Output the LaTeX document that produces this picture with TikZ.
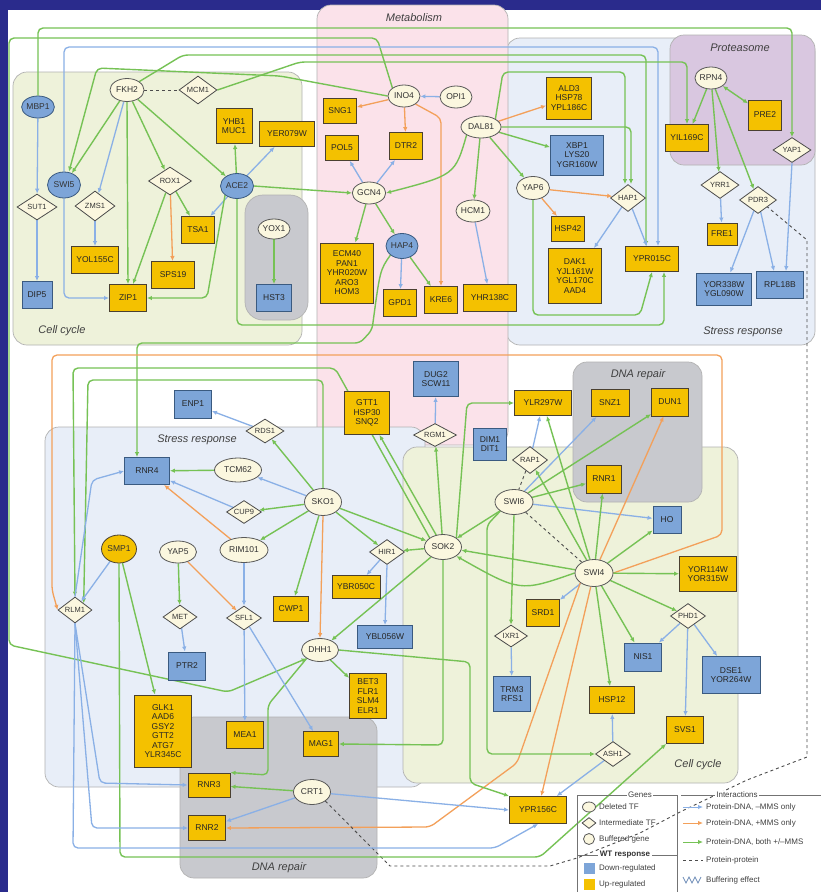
\documentclass[tikz,border=0pt]{standalone}
\usepackage{fontspec}
\setmainfont{Liberation Sans}
\usetikzlibrary{shapes.geometric,arrows.meta,calc}
\definecolor{navy}{HTML}{2A2B8C}
\definecolor{yfill}{HTML}{F4C100}
\definecolor{ybd}{HTML}{4A4030}
\definecolor{bfill}{HTML}{7DA5D8}
\definecolor{bbd}{HTML}{3A5A80}
\definecolor{cream}{HTML}{FBF7DF}
\definecolor{egreen}{HTML}{76C255}
\definecolor{eblue}{HTML}{8AB0E6}
\definecolor{eorange}{HTML}{F3A05A}
\definecolor{ccfill}{HTML}{EEF2DA}
\definecolor{srfill}{HTML}{E8EEF8}
\definecolor{mtfill}{HTML}{FBE2EA}
\definecolor{prfill}{HTML}{D9C7E0}
\definecolor{drfill}{HTML}{C8C9CE}
\pgfdeclarelayer{bg}
\pgfdeclarelayer{edges}
\pgfsetlayers{bg,edges,main}
\tikzset{
 yb/.style={rectangle, draw=ybd, fill=yfill, line width=0.9pt, inner sep=1pt, align=center, text=black!85, font=\fontsize{8.5}{9.5}\selectfont},
 bb/.style={yb, draw=bbd, fill=bfill},
 tf/.style={ellipse, draw=black!65, fill=cream, line width=0.8pt, inner sep=0pt, text=black!80, font=\fontsize{8.5}{9.5}\selectfont},
 btf/.style={tf, fill=bfill, draw=bbd},
 ytf/.style={tf, fill=yfill, draw=ybd},
 dia/.style={diamond, aspect=1.5, draw=black!70, fill=cream, line width=0.8pt, inner sep=0pt, text=black!80, font=\fontsize{7.5}{8.5}\selectfont},
 sz/.style 2 args={minimum width=#1pt, minimum height=#2pt},
 ed/.style={line width=1.3pt, rounded corners=5pt, -{Latex[length=5pt,width=4.5pt]}},
 eg/.style={ed, draw=egreen, line width=1.4pt},
 eb/.style={ed, draw=eblue},
 eo/.style={ed, draw=eorange},
 pp/.style={draw=black!70, line width=0.9pt, dash pattern=on 3pt off 3pt},
 reg/.style={rounded corners=14pt, draw=black!30, line width=0.7pt},
 rlab/.style={font=\fontsize{11}{12}\selectfont\itshape, text=black!75},
 lg/.style={font=\fontsize{8}{9}\selectfont, text=black!75, anchor=west, inner sep=0pt},
}
\begin{document}
\begin{tikzpicture}[x=1pt,y=-1pt]
\useasboundingbox (0,0) rectangle (821,892);
\begin{pgfonlayer}{bg}
\fill[white] (0,0) rectangle (821,892);
\fill[navy] (0,0) rectangle (821,10);
\fill[navy] (0,0) rectangle (8,892);
% regions
\filldraw[reg, fill=srfill] (506,38) rectangle (815,345);
\filldraw[reg, fill=prfill] (670,35) rectangle (815,165);
\filldraw[reg, fill=ccfill] (13,72) rectangle (302,345);
\filldraw[reg, fill=drfill, rounded corners=18pt] (245,195) rectangle (308,320);
\filldraw[reg, fill=mtfill] (317,5) rectangle (508,445);
\filldraw[reg, fill=srfill] (45,427) rectangle (425,787);
\filldraw[reg, fill=ccfill] (403,447) rectangle (738,783);
\filldraw[reg, fill=drfill] (573,362) rectangle (702,502);
\filldraw[reg, fill=drfill] (180,717) rectangle (377,878);
\fill[white] (575,789) rectangle (821,892);
\node[rlab] (lcc1) at (62,331) {Cell cycle};
\node[rlab] (lmet) at (414,18) {Metabolism};
\node[rlab] (lpro) at (740,48) {Proteasome};
\node[rlab] (lsr1) at (743,332) {Stress response};
\node[rlab] (lsr2) at (197,440) {Stress response};
\node[rlab] (ldr1) at (638,375) {DNA repair};
\node[rlab] (lcc2) at (698,765) {Cell cycle};
\node[rlab] (ldr2) at (279,868) {DNA repair};
\end{pgfonlayer}

% ---------- nodes: top-left ----------
\node[btf,sz={30}{22}] (MBP1) at (38,107) {MBP1};
\node[tf,sz={34}{23}] (FKH2) at (127,90) {FKH2};
\node[dia,sz={38}{28}] (MCM1) at (198,90) {MCM1};
\node[btf,sz={33}{26}] (SWI5) at (64,185) {SWI5};
\node[dia,sz={40}{26}] (SUT1) at (37,207) {SUT1};
\node[dia,sz={40}{30}] (ZMS1) at (95,206) {ZMS1};
\node[dia,sz={43}{28}] (ROX1) at (170,181) {ROX1};
\node[btf,sz={33}{25}] (ACE2) at (237,186) {ACE2};
\node[yb,sz={36}{35}] (YHB1) at (234,126) {YHB1\\MUC1};
\node[yb,sz={55}{25}] (YER079W) at (287,134) {YER079W};
\node[yb,sz={33}{27}] (TSA1) at (198,230) {TSA1};
\node[yb,sz={43}{27}] (SPS19) at (173,275) {SPS19};
\node[yb,sz={47}{27}] (YOL155C) at (95,260) {YOL155C};
\node[bb,sz={30}{27}] (DIP5) at (37,295) {DIP5};
\node[yb,sz={37}{27}] (ZIP1) at (128,298) {ZIP1};
\node[tf,sz={32}{20}] (YOX1) at (274,229) {YOX1};
\node[bb,sz={35}{27}] (HST3) at (274,298) {HST3};
% ---------- metabolism ----------
\node[tf,sz={32}{22}] (INO4) at (404,96) {INO4};
\node[tf,sz={32}{22}] (OPI1) at (456,97) {OPI1};
\node[tf,sz={40}{22}] (DAL81) at (481,127) {DAL81};
\node[yb,sz={33}{25}] (SNG1) at (340,111) {SNG1};
\node[yb,sz={33}{25}] (POL5) at (342,148) {POL5};
\node[yb,sz={33}{27}] (DTR2) at (406,146) {DTR2};
\node[tf,sz={33}{22}] (GCN4) at (369,193) {GCN4};
\node[tf,sz={30}{22}] (HCM1) at (473,211) {HCM1};
\node[btf,sz={32}{25}] (HAP4) at (402,246) {HAP4};
\node[yb,sz={53}{60}] (ECM) at (347,273) {ECM40\\PAN1\\YHR020W\\ARO3\\HOM3};
\node[yb,sz={33}{27}] (GPD1) at (400,303) {GPD1};
\node[yb,sz={33}{27}] (KRE6) at (441,300) {KRE6};
\node[yb,sz={53}{27}] (YHR138C) at (490,298) {YHR138C};
% ---------- top right ----------
\node[tf,sz={33}{23}] (YAP6) at (533,188) {YAP6};
\node[yb,sz={45}{42}] (ALD3) at (569,98) {ALD3\\HSP78\\YPL186C};
\node[bb,sz={53}{40}] (XBP1) at (577,155) {XBP1\\LYS20\\YGR160W};
\node[dia,sz={35}{27}] (HAP1) at (628,198) {HAP1};
\node[yb,sz={33}{25}] (HSP42) at (568,229) {HSP42};
\node[yb,sz={53}{55}] (DAK1) at (575,276) {DAK1\\YJL161W\\YGL170C\\AAD4};
\node[yb,sz={53}{25}] (YPR015C) at (652,259) {YPR015C};
\node[tf,sz={30}{22}] (RPN4) at (711,78) {RPN4};
\node[yb,sz={43}{27}] (YIL169C) at (687,138) {YIL169C};
\node[yb,sz={33}{30}] (PRE2) at (765,115) {PRE2};
\node[dia,sz={38}{25}] (YAP1) at (792,150) {YAP1};
\node[dia,sz={38}{27}] (RTG1) at (720,185) {YRR1};
\node[dia,sz={37}{27}] (PDR3) at (758,200) {PDR3};
\node[yb,sz={30}{22}] (FRE1) at (722,234) {FRE1};
\node[bb,sz={55}{32}] (YOR338W) at (724,289) {YOR338W\\YGL090W};
\node[bb,sz={47}{27}] (RPL18B) at (780,285) {RPL18B};
% ---------- lower left ----------
\node[bb,sz={37}{28}] (ENP1) at (193,404) {ENP1};
\node[dia,sz={38}{24}] (RDS1) at (265,431) {RDS1};
\node[bb,sz={45}{27}] (RNR4) at (147,471) {RNR4};
\node[tf,sz={47}{24}] (TCM62) at (238,470) {TCM62};
\node[dia,sz={35}{23}] (CUP9) at (244,512) {CUP9};
\node[tf,sz={37}{27}] (SKO1) at (323,502) {SKO1};
\node[ytf,sz={35}{28}] (SMP1) at (119,549) {SMP1};
\node[tf,sz={37}{22}] (YAP5) at (178,552) {YAP5};
\node[tf,sz={48}{25}] (RIM101) at (244,550) {RIM101};
\node[dia,sz={34}{26}] (RLM1) at (75,610) {RLM1};
\node[dia,sz={34}{24}] (MET) at (180,617) {MET};
\node[dia,sz={35}{24}] (SFL1) at (244,618) {SFL1};
\node[bb,sz={37}{28}] (PTR2) at (187,666) {PTR2};
\node[yb,sz={57}{72}] (GLK1) at (163,731) {GLK1\\AAD6\\GSY2\\GTT2\\ATG7\\YLR345C};
\node[yb,sz={37}{27}] (MEA1) at (245,735) {MEA1};
\node[yb,sz={42}{24}] (RNR3) at (209,785) {RNR3};
\node[yb,sz={37}{25}] (RNR2) at (207,828) {RNR2};
\node[yb,sz={35}{25}] (MAG1) at (321,744) {MAG1};
\node[tf,sz={37}{25}] (CRT1) at (312,792) {CRT1};
\node[tf,sz={37}{23}] (DHH1) at (320,650) {DHH1};
\node[yb,sz={35}{25}] (CWP1) at (291,609) {CWP1};
\node[yb,sz={37}{45}] (BET3) at (368,696) {BET3\\FLR1\\SLM4\\ELR1};
\node[yb,sz={48}{23}] (YBR050C) at (356,587) {YBR050C};
\node[bb,sz={55}{23}] (YBL056W) at (385,637) {YBL056W};
\node[dia,sz={35}{25}] (HIR1) at (387,552) {HIR1};
\node[tf,sz={37}{25}] (SOK2) at (443,547) {SOK2};
\node[yb,sz={45}{43}] (GTT1) at (367,413) {GTT1\\HSP30\\SNQ2};
\node[bb,sz={45}{35}] (DUG2) at (436,379) {DUG2\\SCW11};
\node[dia,sz={43}{23}] (RGM1) at (435,435) {RGM1};
\node[bb,sz={33}{32}] (DIM1) at (490,444) {DIM1\\DIT1};
\node[yb,sz={57}{25}] (YLR297W) at (543,403) {YLR297W};
\node[dia,sz={35}{27}] (RAP1) at (530,460) {RAP1};
\node[tf,sz={38}{25}] (SWI6) at (514,502) {SWI6};
% ---------- lower right ----------
\node[yb,sz={38}{27}] (SNZ1) at (610,403) {SNZ1};
\node[yb,sz={37}{28}] (DUN1) at (670,402) {DUN1};
\node[yb,sz={35}{28}] (RNR1) at (604,479) {RNR1};
\node[bb,sz={28}{27}] (HO) at (667,520) {HO};
\node[tf,sz={38}{27}] (SWI4) at (594,573) {SWI4};
\node[yb,sz={57}{35}] (YOR114W) at (708,574) {YOR114W\\YOR315W};
\node[dia,sz={35}{25}] (PHD1) at (688,616) {PHD1};
\node[bb,sz={37}{28}] (NIS1) at (643,657) {NIS1};
\node[bb,sz={58}{37}] (DSE1) at (731,675) {DSE1\\YOR264W};
\node[yb,sz={33}{27}] (SRD1) at (543,613) {SRD1};
\node[dia,sz={33}{22}] (IXR1) at (511,636) {IXR1};
\node[bb,sz={37}{35}] (TRM3) at (512,694) {TRM3\\RFS1};
\node[yb,sz={45}{27}] (HSP12) at (612,700) {HSP12};
\node[dia,sz={35}{25}] (ASH1) at (613,754) {ASH1};
\node[yb,sz={37}{27}] (SVS1) at (685,730) {SVS1};
\node[yb,sz={57}{27}] (YPR156C) at (538,810) {YPR156C};

% ---------- edges ----------
\begin{pgfonlayer}{edges}
% long routed
\draw[eg] (MBP1.north) -- (38,28) -- (792,28) -- (YAP1.north);
\draw[eg] (INO4.north west) -- (377,38) -- (9,38) -- (9,645) -- (228,692) -- (DHH1.south west);
\draw[eb] (SWI5.north) -- (64,47) -| ([xshift=6pt]YPR015C.north);
\draw[eg] (FKH2.north east) -- (183,55) -| ([xshift=-6pt]YPR015C.north);
\draw[eg] (INO4.west) -- (280,76) -- (97,68) -- ([xshift=5pt]SWI5.north);
\draw[eg] (DAL81.north east) -- (503,72) -| ([xshift=-3pt]HAP1.north);
\draw[eg] (DAL81.east) -| ([xshift=3pt]HAP1.north);
\draw[eg] (MCM1.east) -- (300,62) -| (YIL169C.north);
\draw[eg] (ACE2.south) -- (237,325) -| ([xshift=12pt]YPR015C.south);
% proteasome
\draw[eg] (RPN4) -- (YIL169C);
\draw[eg,{Latex[length=5pt,width=4.5pt]}-{Latex[length=5pt,width=4.5pt]}] (RPN4) -- (PRE2);
\draw[eg] (RPN4) -- (RTG1);
\draw[eg] (RPN4) -- (PDR3);
\draw[eb] (RTG1) -- (FRE1);
\draw[eb] (PDR3) -- (YOR338W);
\draw[eb] (PDR3) -- ([xshift=-6pt]RPL18B.north);
\draw[eb] (YAP1.south) -- ([xshift=6pt]RPL18B.north);
% top-left
\draw[pp] (FKH2) -- (MCM1);
\draw[eg] (FKH2) -- (SWI5);
\draw[eb] (FKH2) -- (ZMS1);
\draw[eg] (FKH2) -- (ROX1);
\draw[eg] (FKH2) -- (ACE2);
\draw[eg] (FKH2.south) -- (ZIP1.north);
\draw[eb] (MBP1) -- (SUT1);
\draw[eb] (SUT1) -- (DIP5);
\draw[eb] (ZMS1) -- (YOL155C);
\draw[eg] (ROX1) -- (TSA1);
\draw[eo] (ROX1) -- (SPS19);
\draw[eg] (ROX1) -- (ZIP1);
\draw[eg] (ACE2) -- (YHB1);
\draw[eb] (ACE2) -- (YER079W);
\draw[eb] (ACE2) -- (TSA1);
\draw[eg] (ACE2.south west) -- (207,298) -- (ZIP1.east);
\draw[eb] (SWI5.south) -- (64,298) -- (ZIP1.west);
\draw[eg] (ACE2.east) -- (GCN4.west);
\draw[eg] (YOX1) -- (HST3);
% metabolism
\draw[eo] (INO4) -- (SNG1);
\draw[eo] (INO4) -- (DTR2);
\draw[eo] (INO4.south east) -- (441,118) -- (KRE6.north);
\draw[eb] (OPI1) -- (INO4);
\draw[eo] (DAL81) -- (ALD3);
\draw[eg] (DAL81) -- (XBP1);
\draw[eg] (DAL81) -- (YAP6);
\draw[eg] (DAL81) -- (HCM1);
\draw[eg] (DAL81.south west) .. controls (455,175) .. (GCN4.east);
\draw[eb] (GCN4) -- (POL5);
\draw[eb] (GCN4) -- (DTR2);
\draw[eg] (GCN4) -- (ECM);
\draw[eg] (GCN4) -- (HAP4);
\draw[eb] (HAP4) -- (GPD1);
\draw[eg] (HAP4) -- (KRE6);
\draw[eb] (HCM1) -- (YHR138C);
\draw[eg] (HAP4.south west) .. controls (380,270) .. (372,330) -- (360,343) -- (137,343) -- ([xshift=-10pt]RNR4.north);
% top right
\draw[eo] (YAP6) -- (HSP42);
\draw[eo] (YAP6) -- (HAP1);
\draw[eg] (YAP6.south) -- (533,315) -- (640,315) -- (YPR015C.south);
\draw[eb] (HAP1) -- (DAK1);
\draw[eb] (HAP1) -- (YPR015C);
% lower
\draw[eg] (SOK2.north west) -- (335,368) -- (73,368) -- (RLM1.north);
\draw[eg] (SKO1.north) -- (323,380) -- (88,380) -- (RLM1.north east);
\draw[eo] (SWI4.east) -- (722,535) -- (722,355) -- (52,355) -- (52,590) -- (RLM1.west);
\draw[eb] (SMP1) -- (RLM1);
\draw[eb] (RLM1.north) -- (92,480) -- (RNR4.west);
\draw[eb] (CUP9) -- (RNR4);
\draw[eg] (TCM62) -- (RNR4);
\draw[eo] (RIM101) -- (RNR4);
\draw[eb] (SKO1) -- (TCM62);
\draw[eg] (SKO1) -- (CUP9);
\draw[eg] (SKO1) -- (RDS1);
\draw[eb] (RDS1) -- (ENP1);
\draw[eg] (SKO1) -- (RIM101);
\draw[eg] (SKO1) -- (CWP1);
\draw[eo] (SKO1.south) -- (DHH1.north);
\draw[eg] (SKO1) -- (SOK2);
\draw[eg] (SKO1) -- (HIR1);
\draw[eb] (HIR1) -- (YBR050C);
\draw[eb] (HIR1.south) -- (YBL056W.north);
\draw[eg] (SOK2) -- (HIR1);
\draw[eg] (SOK2) -- (GTT1);
\draw[eg] (SOK2) -- (RGM1);
\draw[eg] (SOK2.north east) -- (467,403) -- (YLR297W.west);
\draw[eb] (RGM1) -- (DUG2);
\draw[eb] (RAP1) -- (YLR297W);
\draw[pp] (RAP1) -- (SWI6);
\draw[eg] (SWI6) -- (SOK2);
\draw[eg] (SWI6) -- (RNR1);
\draw[eb] (SWI6) -- (SNZ1);
\draw[eg] (SWI6) -- (DUN1);
\draw[eb] (SWI6) -- (HO);
\draw[pp] (SWI6) -- (SWI4);
\draw[eg] (SWI6.south) -- (IXR1.north);
\draw[eg] (SWI4) -- (SOK2);
\draw[eg] (SWI4.west) .. controls (520,592) .. (SOK2.south east);
\draw[eg] (SWI4) -- (YLR297W);
\draw[eg] (SWI4) -- (RNR1);
\draw[eo] (SWI4) -- (DUN1);
\draw[eg] (SWI4) -- (HO);
\draw[eg] (SWI4) -- (YOR114W);
\draw[eg] (SWI4) -- (PHD1);
\draw[eg] (SWI4) -- (NIS1);
\draw[eg] (SWI4) -- (HSP12);
\draw[eo] (SWI4) -- (YPR156C);
\draw[eb] (SWI4) -- (SRD1);
\draw[eg] (SWI4) -- (RAP1);
\draw[eo] (SWI4.south west) -- (517,763) -- (430,827) -- (RNR2.east);
\draw[eb] (PHD1) -- (NIS1);
\draw[eb] (PHD1) -- (DSE1);
\draw[eb] (PHD1) -- (SVS1);
\draw[eb] (IXR1) -- (TRM3);
\draw[eb] (ASH1) -- (HSP12);
\draw[eg] (SWI6.south west) -- (487,525) -- (487,754) -- (ASH1.west);
\draw[eb] (ASH1) -- (YPR156C);
\draw[eb] (CRT1) -- (YPR156C.west);
\draw[eg] (DHH1.east) -- (470,662) -- (470,783) -- (YPR156C.north west);
\draw[eg] (DHH1) -- (BET3);
\draw[eg] (SOK2.south) -- (443,745) -- (MAG1.east);
\draw[eg] (SOK2) -- (DHH1);
\draw[eg] (DHH1.south west) -- (268,705) -- (268,775) -- (RNR3.north east);
\draw[eg] (CRT1) -- (RNR3);
\draw[eb] (CRT1) -- (RNR2);
\draw[pp] (CRT1.south east) -- (390,866) -- (550,866) -- (577,858) -- (640,833) -- (680,812) -- (747,780) -- (807,757) -- (807,240) -- (PDR3.south east);
\draw[eb] (SFL1) -- (MEA1);
\draw[eb] (SFL1) -- (MAG1);
\draw[eo] (YAP5) -- (SFL1);
\draw[eb] (RIM101) -- (SFL1);
\draw[eg] (YAP5) -- (MET);
\draw[eb] (MET) -- (PTR2);
\draw[eg] (SMP1) -- ([xshift=-8pt]GLK1.north);
\draw[eg] (SMP1.south) -- (120,857) -- (540,857) -- (SVS1.south west);
\draw[eb] (RLM1.south) -- (100,783) -- (RNR3.west);
\draw[eb] (RLM1.south) -- (92,828) -- (RNR2.west);
\draw[eb] (RLM1.south) -- (73,848) -- (495,848) -- (YPR156C.south);
\end{pgfonlayer}

% ---------- legend ----------
\draw[black!55, line width=0.7pt] (577,795) -- (577,892) (677,795) -- (677,892);
\draw[black!55, line width=0.7pt] (577,795) -- (677,795) (681,795) -- (821,795);
\draw[black!55, line width=0.7pt] (577,855) -- (677,855);
\node[fill=white, font=\fontsize{8}{9}\selectfont, text=black!75, inner sep=1.5pt] (lgen) at (640,795) {Genes};
\node[fill=white, font=\fontsize{8}{9}\selectfont, text=black!75, inner sep=1.5pt] (lint) at (737,795) {Interactions};
\node[fill=white, font=\bfseries\fontsize{8}{9}\selectfont, text=black!80, inner sep=1.5pt] (lwt) at (625,855) {WT response};
\node[tf, minimum width=13pt, minimum height=10pt] (ks1) at (589,807) {};
\node[lg] (kt1) at (599,807) {Deleted TF};
\node[dia, minimum width=14pt, minimum height=11pt] (ks2) at (589,823) {};
\node[lg] (kt2) at (599,823) {Intermediate TF};
\node[tf, circle, minimum size=11pt] (ks3) at (589,839) {};
\node[lg] (kt3) at (599,839) {Buffered gene};
\node[fill=bfill, minimum size=11pt, inner sep=0pt] (ks4) at (589,868) {};
\node[lg] (kt4) at (599,868) {Down-regulated};
\node[fill=yfill, minimum size=11pt, inner sep=0pt] (ks5) at (589,884) {};
\node[lg] (kt5) at (599,884) {Up-regulated};
\coordinate (a1) at (683,807); \coordinate (b1) at (703,807);
\coordinate (a2) at (683,823); \coordinate (b2) at (703,823);
\coordinate (a3) at (683,842); \coordinate (b3) at (703,842);
\coordinate (a4) at (683,860); \coordinate (b4) at (703,860);
\draw[eb, line width=1pt] (a1) -- (b1);
\draw[eo, line width=1pt] (a2) -- (b2);
\draw[eg, line width=1pt] (a3) -- (b3);
\draw[pp] (a4) -- (b4);
\draw[eblue!80!black, line width=0.8pt] (683,877) -- (686,883) -- (689,877) -- (692,883) -- (695,877) -- (698,883) -- (701,877);
\node[lg] (it1) at (706,807) {Protein-DNA, \textendash MMS only};
\node[lg] (it2) at (706,823) {Protein-DNA, +MMS only};
\node[lg] (it3) at (706,842) {Protein-DNA, both +/\textendash MMS};
\node[lg] (it4) at (706,860) {Protein-protein};
\node[lg] (it5) at (706,880) {Buffering effect};
\end{tikzpicture}
\end{document}
